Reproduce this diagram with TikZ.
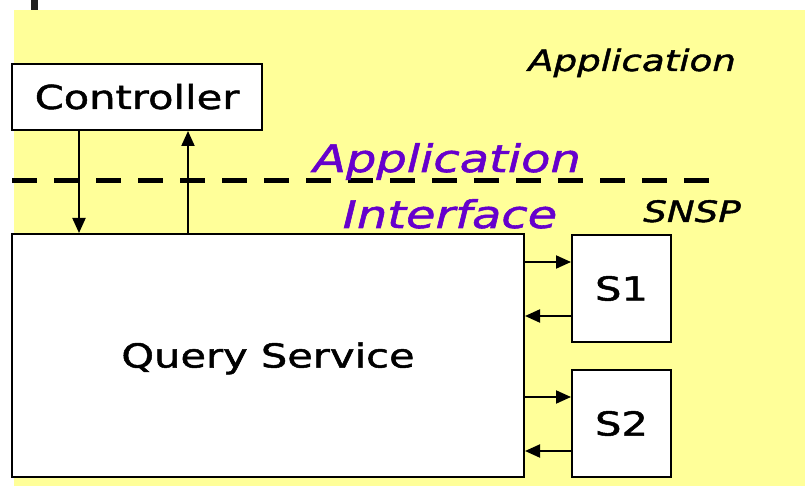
\documentclass[tikz,border=0pt]{standalone}
\usepackage{fontspec}
\setmainfont{DejaVu Sans}[FakeStretch=1.26,FakeBold=1.5]
\usetikzlibrary{arrows.meta}
\definecolor{notepad}{HTML}{FFFF99}
\definecolor{ifacepurple}{HTML}{6600CC}
\begin{document}
\begin{tikzpicture}[x=1pt,y=-1pt,
  box/.style={draw=black, line width=2pt, fill=white, inner sep=0pt,
    text height=24pt, text depth=0pt, font=\fontsize{33}{40}\selectfont},
  flow/.style={line width=2pt, -{Triangle[length=15pt,width=13pt]}},
  tag/.style={font=\fontsize{29.5}{36}\selectfont\itshape, anchor=base},
  iface/.style={font=\fontsize{38}{46}\selectfont\itshape, text=ifacepurple, anchor=base}]
  \useasboundingbox (0,0) rectangle (805,486);
  \fill[white] (0,0) rectangle (805,486);
  % yellow application area and the small tab above it
  \fill[notepad] (14,10) rectangle (805,486);
  \fill[black!87] (31,0) rectangle (38,10);

  % interface boundary
  \coordinate (dashL) at (12,181);
  \coordinate (dashR) at (709,181);
  \draw[line width=5pt, dash pattern=on 25pt off 17pt] (dashL) -- (dashR);

  % components
  \node[box, minimum width=250pt, minimum height=66pt] (ctrl) at (137,97) {Controller};
  \node[box, minimum width=512pt, minimum height=243pt] (qs) at (268,355.5) {Query Service};
  \node[box, minimum width=99pt, minimum height=107pt] (s1) at (621.5,288.5) {S1};
  \node[box, minimum width=99pt, minimum height=107pt] (s2) at (621.5,423.5) {S2};

  % connector columns and rows
  \coordinate (down) at (79,0);
  \coordinate (up) at (188,0);
  \coordinate (s1out) at (0,262);
  \coordinate (s1in) at (0,316);
  \coordinate (s2out) at (0,397);
  \coordinate (s2in) at (0,451);

  \draw[flow] (ctrl.south -| down) -- (qs.north -| down);
  \draw[flow] (qs.north -| up) -- (ctrl.south -| up);
  \draw[flow] (qs.east |- s1out) -- (s1.west |- s1out);
  \draw[flow] (s1.west |- s1in) -- (qs.east |- s1in);
  \draw[flow] (qs.east |- s2out) -- (s2.west |- s2out);
  \draw[flow] (s2.west |- s2in) -- (qs.east |- s2in);

  % labels
  \node[tag] (appl) at (632,71) {Application};
  \node[tag] (snsp) at (692,222) {SNSP};
  \node[iface] (ifa) at (447,172) {Application};
  \node[iface] (ifb) at (450,228) {Interface};
\end{tikzpicture}
\end{document}
